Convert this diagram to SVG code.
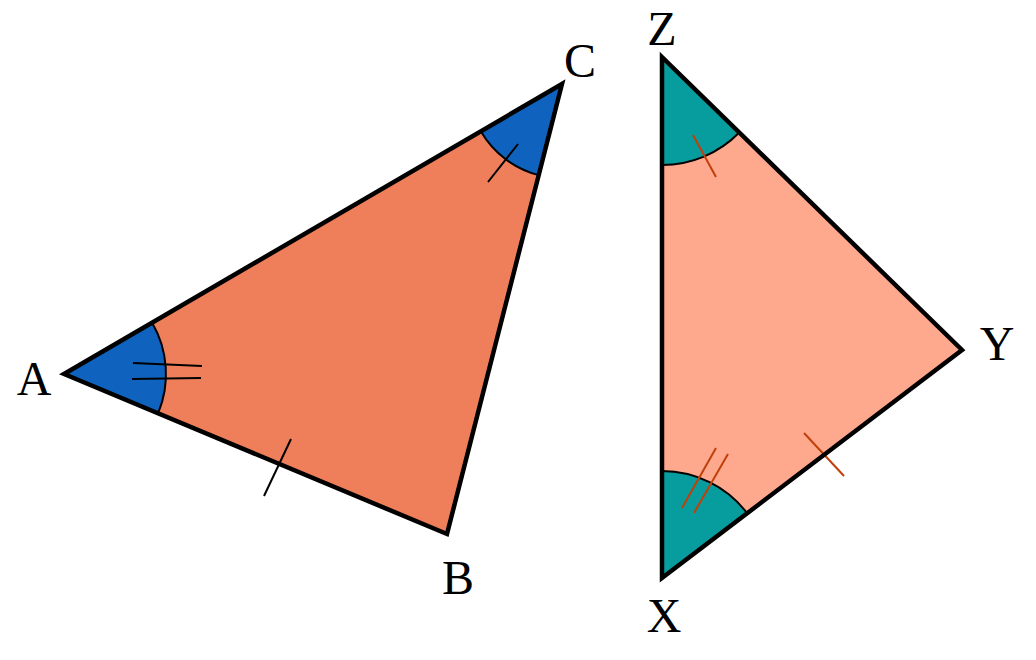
<svg xmlns="http://www.w3.org/2000/svg" width="1036" height="660" viewBox="0 0 1036 660">
<style>
.outline{fill:none;stroke:#000;stroke-width:4.5;stroke-linejoin:miter;stroke-miterlimit:10}
.arc{fill:none;stroke:#000;stroke-width:2}
.tickK{stroke:#000;stroke-width:2;fill:none}
.tickR{stroke:#C1400A;stroke-width:2;fill:none}
.lbl{font-size:48px;fill:#000;text-anchor:middle}
</style>
<rect width="1036" height="660" fill="#fff"/>
<g id="triangle-ABC">
<polygon points="64,374 562,84 447,534" fill="#EF7F5B"/>
<path d="M64,374 L152.1,322.7 A102,102 0 0 1 158.1,413.3 Z" fill="#0F62BD"/>
<path class="arc" d="M152.1,322.7 A102,102 0 0 1 158.1,413.3"/>
<path d="M562,84 L480.8,131.3 A94,94 0 0 0 538.7,175.1 Z" fill="#0F62BD"/>
<path class="arc" d="M480.8,131.3 A94,94 0 0 0 538.7,175.1"/>
<line class="tickK" x1="133" y1="363" x2="202" y2="366"/>
<line class="tickK" x1="132" y1="379" x2="201" y2="378"/>
<line class="tickK" x1="518" y1="144" x2="488" y2="182"/>
<line class="tickK" x1="291" y1="439" x2="264" y2="496"/>
<polygon class="outline" points="64,374 562,84 447,534"/>
</g>
<g id="triangle-XYZ">
<polygon points="662,57 962,350 662,578" fill="#FEA88E"/>
<path d="M662,57 L739.3,132.5 A108,108 0 0 1 662,165 Z" fill="#079C9D"/>
<path class="arc" d="M739.3,132.5 A108,108 0 0 1 662,165"/>
<path d="M662,578 L662,471 A107,107 0 0 1 747.2,513.3 Z" fill="#079C9D"/>
<path class="arc" d="M662,471 A107,107 0 0 1 747.2,513.3"/>
<line class="tickR" x1="693" y1="135" x2="716" y2="177"/>
<line class="tickR" x1="716" y1="448" x2="682" y2="508"/>
<line class="tickR" x1="728" y1="454" x2="694" y2="513"/>
<line class="tickR" x1="804" y1="433" x2="844" y2="476"/>
<polygon class="outline" points="662,57 962,350 662,578"/>
</g>
<g id="labels" font-family="Liberation Serif, Times New Roman, serif">
<text class="lbl" x="34" y="395">A</text>
<text class="lbl" x="458" y="594">B</text>
<text class="lbl" x="580" y="77">C</text>
<text class="lbl" x="662" y="45">Z</text>
<text class="lbl" x="997" y="360">Y</text>
<text class="lbl" x="664" y="632">X</text>
</g>
</svg>
